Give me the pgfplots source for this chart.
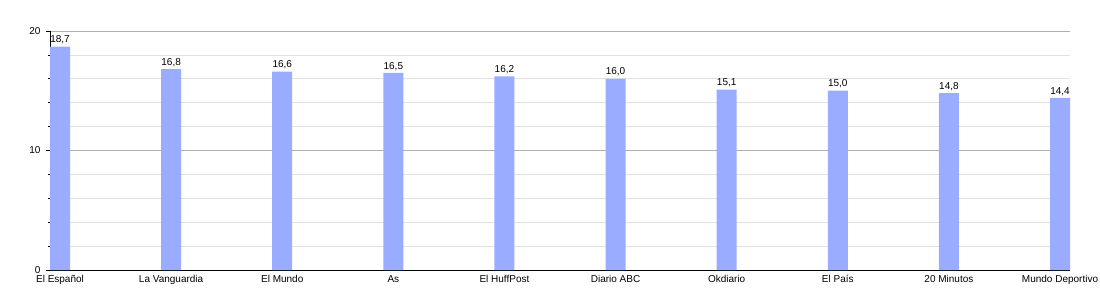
\documentclass[border=0pt]{standalone}
\usepackage{pgfplots}
\pgfplotsset{compat=1.18}
\usepackage{fontspec}
\setmainfont{Liberation Sans}
\definecolor{barblue}{RGB}{153,172,255}
\definecolor{majgrid}{RGB}{175,175,175}
\definecolor{mingrid}{RGB}{225,225,225}
\begin{document}
\begin{tikzpicture}
\begin{axis}[
  scale only axis,
  width=1020pt, height=239pt,
  xmin=-0.09, xmax=9.09,
  ymin=0, ymax=20,
  axis x line*=bottom,
  axis y line*=left,
  axis line style={black, line width=0.8pt},
  xtick={0,...,9},
  xticklabels={El Español,La Vanguardia,El Mundo,As,El HuffPost,Diario ABC,Okdiario,El País,20 Minutos,Mundo Deportivo},
  x tick style={draw=none},
  ytick={0,10,20},
  minor ytick={2,4,6,8,12,14,16,18},
  ymajorgrids, yminorgrids,
  major grid style={majgrid, line width=0.6pt},
  minor grid style={mingrid, line width=0.6pt},
  y tick style={black, line width=0.6pt},
  tick align=outside,
  major tick length=4pt,
  minor tick length=2pt,
  tick label style={font=\fontsize{10}{11}\selectfont},
  yticklabel style={xshift=-2pt},
  xticklabel style={yshift=2pt},
  /pgf/number format/assume math mode=true,
  ybar,
  bar width=20pt,
  nodes near coords,
  nodes near coords style={font=\fontsize{10}{11}\selectfont, yshift=-1pt,
    /pgf/number format/fixed, /pgf/number format/fixed zerofill,
    /pgf/number format/precision=1, /pgf/number format/use comma,
    /pgf/number format/assume math mode=true},
]
\addplot[fill=barblue, draw=none] coordinates {
(0,18.7) (1,16.8) (2,16.6) (3,16.5) (4,16.2) (5,16.0) (6,15.1) (7,15.0) (8,14.8) (9,14.4)
};
\end{axis}
\pgfresetboundingbox
\useasboundingbox (-50pt,-30pt) rectangle (1050pt,270pt);
\end{tikzpicture}
\end{document}
